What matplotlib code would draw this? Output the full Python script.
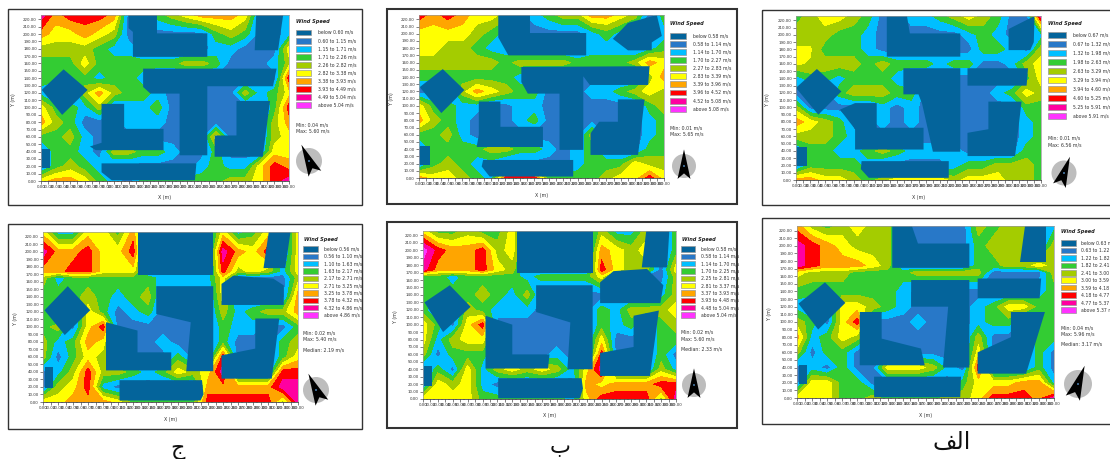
import numpy as np
import matplotlib
matplotlib.use("Agg")
import matplotlib.pyplot as plt
from matplotlib.patches import Polygon, Rectangle, Circle

W, H = 1110, 459
COLORS = ['#04649B', '#2878C8', '#00BFFF', '#33CC33', '#A4CC00',
          '#FFFF00', '#FFA500', '#FF0000', '#FF00A0', '#FF33FF']
X_POS = np.arange(0, 341, 20)
Y_TOP = np.array([226, 200, 180, 160, 140, 120, 100, 80, 60, 40, 20, 0])
Y_BOTTOM = np.array([226, 200, 174, 165, 140, 120, 100, 80, 60, 40, 20, 0])

# speed class (0-9), rows from the top down, columns every 20 m
GRID_1 = [
 [8,6,7,7,7,6,0,0,3,4,5,6,6,6,5,0,0,2],
 [6,5,5,6,5,4,1,0,0,0,0,0,3,4,3,1,0,2],
 [4,4,4,4,3,2,2,0,0,0,0,0,2,2,1,1,0,5],
 [3,3,3,5,3,3,3,3,3,3,4,4,3,1,1,1,2,4],
 [3,3,3,3,2,3,3,2,0,0,0,0,0,0,0,0,0,7],
 [2,0,0,4,6,4,3,3,2,1,0,0,1,1,4,2,3,5],
 [5,3,3,2,4,0,2,2,3,1,0,0,1,1,0,0,3,7],
 [6,4,3,1,1,0,2,2,2,1,0,0,1,1,0,0,4,6],
 [3,3,4,2,1,0,0,0,0,1,1,0,5,0,0,0,4,5],
 [0,3,3,2,1,4,4,3,3,2,0,0,3,0,0,0,5,5],
 [0,3,4,3,2,0,0,0,0,0,0,2,3,2,2,5,7,6],
 [5,6,6,5,3,2,1,3,3,3,3,3,3,4,4,5,7,8]]
GRID_2 = [
 [7,6,7,6,5,5,4,0,2,3,4,4,6,6,5,4,0,3],
 [5,5,5,5,4,3,2,0,0,0,0,0,2,3,2,0,0,2],
 [5,5,4,4,3,2,2,1,0,0,0,0,2,2,2,1,2,3],
 [4,4,4,4,4,4,3,4,4,4,4,3,3,3,3,4,6,5],
 [3,3,3,3,3,3,3,2,0,0,0,0,0,0,0,0,4,6],
 [1,0,0,4,6,5,4,3,3,0,0,0,2,2,3,4,5,4],
 [5,3,3,2,2,0,1,2,2,1,0,0,1,1,0,0,3,4],
 [6,4,3,2,1,0,1,2,3,1,0,0,1,1,0,0,2,3],
 [3,3,4,2,1,0,0,0,0,1,1,0,4,0,0,0,2,3],
 [0,3,3,3,3,4,4,3,3,2,1,2,3,0,0,0,3,3],
 [0,3,4,3,2,2,0,0,0,0,0,2,3,3,3,5,4,4],
 [6,5,5,4,3,2,7,7,7,3,3,3,3,4,5,5,7,5]]
GRID_3 = [
 [3,4,5,5,4,3,1,0,2,2,3,4,5,4,3,1,0,8],
 [4,4,4,3,3,2,1,0,0,0,0,0,2,3,2,1,0,2],
 [4.6,4.6,3,3,3,2,1,0,0,0,0,0,1,3,3,2,0,4],
 [4.6,4.4,4,4,4,3,4,3,3,3,2,3,3,1,1,2,4,5],
 [2,3,3,2,3,3,3,2,0,0,0,0,0,0,0,0,3,5],
 [1,0,0,3,4,4,4,3,3,0,0,0,1,1,2,3,5,4],
 [4,1,0,1,0,0,2,1,2,1,0,0,1,1,0,0,3,3],
 [6,5,4,3,1,0,2,1,2,1,0,0,0,1,1,0,2,3],
 [4,4,4,3,2,0,0,0,0,1,0,0,1,0,1,0,2,3],
 [0,3,3,2,2,3,4,3,2,2,2,2,0,0,0,0,3,3],
 [0,3,3,3,3,2,0,0,0,0,0,2,3,3,4,4,4,3],
 [6,6,5,5,4,3,4,5,5,5,5,4,5,5,5,4,4,3]]
GRID_4 = [
 [5,2,2,5,5,3,6,0,0,0,0,0,5,2,3,5,0,5],
 [8,6,6,7,5,5,7,0,0,0,0,0,8,6,5,7,0,5],
 [6,6,7,7,5,5,5,0,0,0,0,0,7,4,5,4,2,5],
 [4,2,3,3,3,3,3,3,2,2,2,2,5,0,0,0,0,4],
 [3,3,3,4,3,2,3,4,0,0,0,0,5,0,0,0,1,6],
 [3,0,0,5,3,1,2,3,0,0,0,0,4,2,3,4,4,6],
 [3,4,0,5,7,1,1,1,1,1,1,0,3,2,2,0,0,3],
 [4,2,3,6,5,0,0,1,2,1,1,0,3,1,0,0,3,4],
 [4,1,3,5,4,0,0,0,0,3,0,0,7,0,0,0,3,5],
 [0,2,4,7,4,4,3,2,3,5,4,5,8,0,0,0,7,7],
 [0,4,5,7,2,0,0,0,0,0,0,6,6,6,6,6,8,8],
 [5,5,6,6,6,5,3,3,3,3,3,7,7,7,7,7,4,8]]
GRID_5 = [
 [5,3,3,4,3,3,5,0,0,1,1,0,4,2,2,4,0,3],
 [9,7,6,6,7,4,5,0,0,0,0,0,6,5,4,5,0,3],
 [8,6,6,6,7,5,4,0,0,0,0,0,7,5,4,4,0,5],
 [3,3,2,3,3,3,3,2,3,3,3,3,5,0,1,0,1,4],
 [3,3,3,3,4,3,2,4,0,0,0,0,0,0,0,0,2,4],
 [3,0,0,4,3,2,2,2,0,0,0,0,3,2,4,4,4,5],
 [5,3,0,5,7,0,1,1,1,1,1,0,3,2,3,0,3,4],
 [5,2,4,5,5,0,1,1,1,1,1,0,5,1,1,0,3,3],
 [4,1,3,3,3,0,0,1,1,2,0,0,7,0,0,0,3,1],
 [0,3,1,5,2,4,5,4,5,4,2,5,8,0,0,0,4,2],
 [0,5,4,5,2,0,0,0,0,0,0,6,5,6,6,6,7,7],
 [5,5,5,5,3,3,3,3,3,3,2,5,7,7,7,7,4,8]]
GRID_6 = [
 [6,4,3,4,5,4,4,0,0,1,0,0,4,3,4,4,0,2],
 [8,7,6,5,4,4,4,0,0,0,0,0,3,4,4,4,0,4],
 [8,7,6,6,6,5,4,0,0,0,0,0,3,3,4,4,5,4],
 [5,4,4,4,3,3,3,3,4,4,4,4,4,1,1,1,1,4],
 [3,3,3,3,3,3,3,2,0,0,0,0,0,0,0,0,2,3],
 [2,0,0,5,5,4,3,2,0,0,0,0,2,3,5,5,3,3],
 [4,3,0,5,7,0,1,1,2,1,0,0,2,3,3,0,3,3],
 [6,2,3,5,4,0,0,1,1,0,0,0,4,1,0,0,3,3],
 [4,1,3,3,1,0,0,0,0,0,0,0,5,0,0,0,3,1],
 [0,2,1,3,1,1,5,5,5,4,2,1,7,0,0,0,3,1],
 [0,5,5,3,3,0,0,0,0,0,0,3,5,5,5,6,6,2],
 [5,5,5,3,3,4,3,3,3,3,4,4,5,7,7,7,6,8]]

BUILDINGS_1 = [
 [(120,226),(159,226),(159,201),(228,201),(228,169),(126,169),(126,203),(120,208)],
 [(295,226),(332,226),(325,178),(293,178)],
 [(140,153),(323,153),(318,129),(228,129),(228,35),(190,35),(190,119),(150,119),(140,128)],
 [(1,124),(31,152),(64,124),(29,90)],
 [(83,105),(114,105),(114,71),(168,71),(168,42),(75,42),(67,47),(83,52)],
 [(83,24),(213,24),(211,1),(97,1),(83,12)],
 [(1,43),(13,43),(13,18),(1,18)],
 [(268,109),(314,109),(304,33),(238,33),(238,62),(268,62)]]
BUILDINGS_2 = [
 [(110,226),(154,226),(154,201),(232,201),(232,170),(124,170),(110,195)],
 [(330,226),(337,197),(323,188),(323,177),(290,177),(269,193),(290,215)],
 [(142,154),(320,155),(318,129),(237,129),(228,141),(228,39),(195,39),(195,117),(151,117),(142,133)],
 [(1,126),(33,151),(63,122),(31,90)],
 [(83,106),(113,106),(113,71),(172,71),(172,43),(80,43),(83,60)],
 [(89,25),(214,25),(214,2),(98,2),(87,16)],
 [(1,44),(15,44),(15,18),(1,18)],
 [(276,109),(313,109),(304,32),(238,32),(238,62),(250,78),(276,78)]]
BUILDINGS_3 = [
 [(126,226),(154,226),(158,202),(228,202),(228,170),(126,170)],
 [(295,208),(331,226),(330,190),(325,179),(295,179)],
 [(149,154),(228,154),(228,39),(190,39),(175,105),(170,118),(149,118)],
 [(238,154),(322,154),(320,130),(238,130)],
 [(0,127),(29,153),(63,122),(31,90)],
 [(61,97),(82,106),(112,106),(112,72),(177,72),(177,42),(82,42),(82,70)],
 [(91,26),(212,26),(212,3),(101,3),(90,15)],
 [(1,45),(15,45),(15,19),(1,19)],
 [(267,108),(313,108),(304,33),(238,33),(238,65),(267,70)]]
BUILDINGS_4 = [
 [(126,226),(227,226),(227,169),(126,169)],
 [(301,226),(330,226),(323,178),(294,178)],
 [(151,154),(227,154),(227,41),(191,41),(197,106),(151,117)],
 [(84,106),(126,95),(126,66),(171,66),(171,42),(84,42)],
 [(2,122),(33,154),(63,122),(29,89)],
 [(102,29),(212,29),(214,10),(210,2),(102,2)],
 [(2,46),(13,46),(13,18),(2,18)],
 [(238,157),(254,168),(307,164),(321,155),(321,129),(238,129)],
 [(283,111),(315,111),(305,31),(238,31),(238,62),(283,71)]]
BUILDINGS_5 = [
 [(126,226),(228,226),(228,169),(126,169)],
 [(300,226),(331,226),(328,177),(294,177)],
 [(152,153),(228,153),(228,40),(194,40),(198,103),(152,117)],
 [(84,112),(120,100),(120,60),(170,60),(168,41),(84,41)],
 [(2,130),(36,153),(64,124),(27,90)],
 [(101,28),(213,28),(215,14),(211,1),(101,1)],
 [(2,45),(12,45),(12,17),(2,17)],
 [(238,157),(256,172),(301,175),(323,153),(319,129),(238,129)],
 [(283,112),(317,119),(305,31),(238,31),(238,62),(283,70)]]
BUILDINGS_6 = [
 [(126,226),(152,226),(160,203),(228,203),(228,171),(126,171)],
 [(301,226),(330,226),(330,179),(295,179)],
 [(151,155),(228,155),(228,40),(193,40),(200,120),(151,120)],
 [(83,113),(112,113),(112,78),(164,65),(169,43),(83,43)],
 [(2,124),(37,152),(64,125),(28,90)],
 [(102,28),(217,28),(216,1),(102,1)],
 [(2,44),(13,44),(13,18),(2,18)],
 [(239,157),(323,157),(321,131),(239,131)],
 [(283,113),(328,113),(303,32),(239,32),(239,60),(283,80)]]

BREAKS_1 = ['0.60','1.15','1.71','2.26','2.82','3.38','3.93','4.49','5.04']
BREAKS_2 = ['0.58','1.14','1.70','2.27','2.83','3.39','3.96','4.52','5.08']
BREAKS_3 = ['0.67','1.32','1.98','2.63','3.29','3.94','4.60','5.25','5.91']
BREAKS_4 = ['0.56','1.10','1.63','2.17','2.71','3.25','3.78','4.32','4.86']
BREAKS_5 = ['0.58','1.14','1.70','2.25','2.81','3.37','3.93','4.48','5.04']
BREAKS_6 = ['0.63','1.22','1.82','2.41','3.00','3.59','4.18','4.77','5.37']
STATS_1 = ['Min: 0.04 m/s', 'Max: 5.60 m/s']
STATS_2 = ['Min: 0.01 m/s', 'Max: 5.65 m/s']
STATS_3 = ['Min: 0.01 m/s', 'Max: 6.56 m/s']
STATS_4 = ['Min: 0.02 m/s', 'Max: 5.40 m/s', 'Median: 2.19 m/s']
STATS_5 = ['Min: 0.02 m/s', 'Max: 5.60 m/s', 'Median: 2.33 m/s']
STATS_6 = ['Min: 0.04 m/s', 'Max: 5.96 m/s', 'Median: 3.17 m/s']
CAPTIONS = ['\u062c', '\u0628', '\ufed2\ufedf\ufe8d']

PANELS = [
 dict(grid=GRID_1, ys=Y_TOP, bld=BUILDINGS_1, br=BREAKS_1, st=STATS_1, frame=(8,9,362,205), plot=(41,15,289,181),
      tx=296, sw=(296,311), ty=21, y0=32.5, dy=8.1, lx=318, sy=(125,131), comp=(309,161,13), rot=25, ylw=1),
 dict(grid=GRID_2, ys=Y_TOP, bld=BUILDINGS_2, br=BREAKS_2, st=STATS_2, frame=(387,9,737,204), plot=(419,15,664,178),
      tx=670, sw=(670,686), ty=24, y0=36, dy=8.07, lx=693, sy=(128,134), comp=(684,166,12), rot=0, ylw=1.5),
 dict(grid=GRID_3, ys=Y_TOP, bld=BUILDINGS_3, br=BREAKS_3, st=STATS_3, frame=(762,10,1116,205), plot=(796,16,1041,180),
      tx=1048, sw=(1048,1066), ty=23, y0=35, dy=9, lx=1073, sy=(138,145), comp=(1064,173,12.5), rot=-20, ylw=1),
 dict(grid=GRID_4, ys=Y_BOTTOM, bld=BUILDINGS_4, br=BREAKS_4, st=STATS_4, frame=(8,224,362,429), plot=(43,232,298,402),
      tx=304, sw=(303,318), ty=239, y0=249, dy=7.33, lx=324, sy=(333,339,350), comp=(316,390,13), rot=25, ylw=1),
 dict(grid=GRID_5, ys=Y_BOTTOM, bld=BUILDINGS_5, br=BREAKS_5, st=STATS_5, frame=(387,222,737,428), plot=(423,231,676,399),
      tx=682, sw=(681,695), ty=239, y0=249, dy=7.33, lx=701, sy=(332,339,349), comp=(694,385,12), rot=0, ylw=1.5),
 dict(grid=GRID_6, ys=Y_BOTTOM, bld=BUILDINGS_6, br=BREAKS_6, st=STATS_6, frame=(762,218,1116,424), plot=(797,226,1054,398),
      tx=1061, sw=(1061,1076), ty=232, y0=243, dy=7.44, lx=1081, sy=(328,334,344), comp=(1078,384,14), rot=-20, ylw=1),
]

fig = plt.figure(figsize=(W/100, H/100), dpi=100, facecolor='white')
ov = fig.add_axes([0, 0, 1, 1], zorder=0)
ov.set_xlim(0, W); ov.set_ylim(H, 0); ov.axis('off')

TXT = '#333333'
for p in PANELS:
    fx0, fy0, fx1, fy1 = p['frame']
    ov.add_patch(Rectangle((fx0, fy0), fx1-fx0, fy1-fy0, fill=False, ec='#333333', lw=p['ylw']))
    x0, y0, x1, y1 = p['plot']
    ax = fig.add_axes([x0/W, 1-y1/H, (x1-x0)/W, (y1-y0)/H], zorder=2)
    # the darkest class is only the building footprints, drawn below as polygons
    field = np.maximum(np.array(p['grid'], float), 1)
    ax.contourf(X_POS, p['ys'], field, levels=np.arange(-0.5, 10), colors=COLORS)
    for b in p['bld']:
        ax.add_patch(Polygon(b, closed=True, fc=COLORS[0], ec='none'))
    ax.set_xlim(0, 340); ax.set_ylim(0, 226)
    ax.set_xticks(np.arange(0, 341, 10))
    ax.set_xticklabels([f'{v:.2f}' for v in np.arange(0, 341, 10)], fontsize=2.9, color=TXT)
    ax.set_xticks(np.arange(0, 341, 5), minor=True)
    ax.set_yticks(np.arange(0, 221, 10))
    ax.set_yticklabels([f'{v:.2f}' for v in np.arange(0, 221, 10)], fontsize=2.9, color=TXT)
    ax.tick_params(axis='both', which='major', length=2, width=0.4, pad=1, color='#222222')
    ax.tick_params(axis='x', which='minor', length=1, width=0.3, color='#222222')
    for s in ax.spines.values():
        s.set_linewidth(0.5); s.set_color('#999999')
    ax.spines['bottom'].set_color('#222222')
    ov.text((x0+x1)/2, y1+17, 'X (m)', fontsize=3.4, color=TXT, ha='center', va='center')
    ov.text(x0-28, (y0+y1)/2+2, 'Y (m)', fontsize=3.4, color=TXT, ha='center', va='center', rotation=90)

    ov.text(p['tx'], p['ty'], 'Wind Speed', fontsize=3.6, fontweight='bold', fontstyle='italic',
            color='#222222', ha='left', va='center')
    br = p['br']
    labels = [f'below {br[0]} m/s'] + [f'{br[i]} to {br[i+1]} m/s' for i in range(8)] + [f'above {br[8]} m/s']
    for i, lab in enumerate(labels):
        yc = p['y0'] + i*p['dy']
        ov.add_patch(Rectangle((p['sw'][0], yc-p['dy']*0.37), p['sw'][1]-p['sw'][0], p['dy']*0.74,
                               fc=COLORS[i], ec='#999999', lw=0.5))
        ov.text(p['lx'], yc, lab, fontsize=3.3, color=TXT, ha='left', va='center')
    for s, yy in zip(p['st'], p['sy']):
        ov.text(p['sw'][0], yy, s, fontsize=3.4, color=TXT, ha='left', va='center')

    cx, cy, r = p['comp']
    ov.add_patch(Circle((cx, cy), r, fc='#BDBDBD', ec='none'))
    a = np.deg2rad(p['rot'])
    k = r/13
    pts = np.array([(0, -18), (-7, 14), (0, 8), (7, 14)], float)*k
    rot = np.array([[np.cos(a), -np.sin(a)], [np.sin(a), np.cos(a)]])
    pts = pts @ rot
    ov.add_patch(Polygon(pts + (cx, cy), closed=True, fc='black', ec='none', zorder=3))
    ov.add_patch(Circle((cx, cy), 0.9, fc='#5C9BD5', ec='none', zorder=4))

for (cx, cy), s, fs in zip([(178, 449), (560, 447), (952, 442)], CAPTIONS, [16, 16, 17]):
    ov.text(cx, cy, s, fontsize=fs, family='DejaVu Sans', color='#111111', ha='center', va='center')

fig.savefig('out.png', dpi=100, facecolor='white')
